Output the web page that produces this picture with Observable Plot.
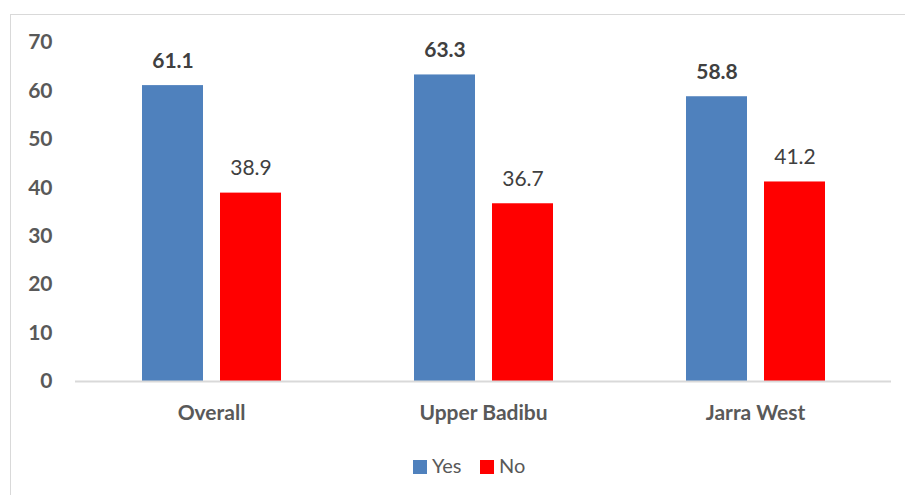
<!DOCTYPE html>
<html>
<head>
<meta charset="utf-8">
<script src="https://cdn.jsdelivr.net/npm/d3@7"></script>
<script src="https://cdn.jsdelivr.net/npm/@observablehq/plot@0.6"></script>
<style>
  html, body { margin: 0; padding: 0; background: #fff; }
  #wrap { position: relative; width: 905px; height: 495px; overflow: hidden; font-family: Lato, "Open Sans", sans-serif; }
  #frame { position: absolute; left: 10px; top: 14px; width: 1000px; height: 600px; border: 1.5px solid #d9d9d9; box-sizing: border-box; pointer-events: none; }
  #chart { position: absolute; left: 0; top: 0; }
  #legend { position: absolute; left: 0; top: 440px; width: 905px; height: 55px; }
  .item { position: absolute; top: 15px; font-size: 20px; color: #595959; line-height: 20px; }
  .sw { display: inline-block; width: 14px; height: 14px; vertical-align: -1px; margin-right: 5px; }
</style>
</head>
<body>
<div id="wrap">
  <div id="frame"></div>
  <div id="chart"></div>
  <div id="legend"></div>
</div>
<script>
const categories = ["Overall", "Upper Badibu", "Jarra West"];
const seriesNames = ["Yes", "No"];
const yesValues = [61.1, 63.3, 58.8];
const noValues = [38.9, 36.7, 41.2];
const yTicks = [0, 10, 20, 30, 40, 50, 60, 70];
const colors = ["#4F81BD", "#FF0000"];

const data = [];
categories.forEach((c, i) => {
  data.push({cat: c, series: "Yes", value: yesValues[i]});
  data.push({cat: c, series: "No", value: noValues[i]});
});

const plot = Plot.plot({
  width: 905,
  height: 440,
  marginLeft: 75,
  marginRight: 14,
  marginTop: 42,
  marginBottom: 59,
  style: {fontFamily: "Lato, 'Open Sans', sans-serif", fontSize: "21px", background: "transparent"},
  fx: {domain: categories, padding: 0, label: null},
  x: {domain: seriesNames, paddingInner: 0.218, paddingOuter: 0.846, axis: null},
  y: {domain: [0, 70], label: null},
  color: {domain: seriesNames, range: colors},
  marks: [
    Plot.axisY({ticks: yTicks, tickSize: 0, tickPadding: 23, fontWeight: "bold", fontSize: 21, color: "#595959", label: null}),
    Plot.axisFx({anchor: "bottom", tickSize: 0, tickPadding: 24, fontWeight: "bold", fontSize: 21, color: "#595959", label: null}),
    Plot.barY(data, {fx: "cat", x: "series", y: "value", fill: "series"}),
    Plot.ruleY([0], {stroke: "#d9d9d9", strokeWidth: 2}),
    Plot.text(data.filter(d => d.series === "Yes"), {fx: "cat", x: "series", y: "value", text: d => d.value.toFixed(1), lineAnchor: "bottom", dy: -18, fontWeight: "bold", fontSize: 21, fill: "#404040"}),
    Plot.text(data.filter(d => d.series === "No"), {fx: "cat", x: "series", y: "value", text: d => d.value.toFixed(1), lineAnchor: "bottom", dy: -18, fontSize: 21, fill: "#404040"})
  ]
});
document.getElementById("chart").appendChild(plot);

const legend = document.getElementById("legend");
const lx = [413, 480];
seriesNames.forEach((s, i) => {
  const it = document.createElement("div");
  it.className = "item";
  it.style.left = lx[i] + "px";
  it.innerHTML = `<span class="sw" style="background:${colors[i]}"></span>${s}`;
  legend.appendChild(it);
});
</script>
</body>
</html>
